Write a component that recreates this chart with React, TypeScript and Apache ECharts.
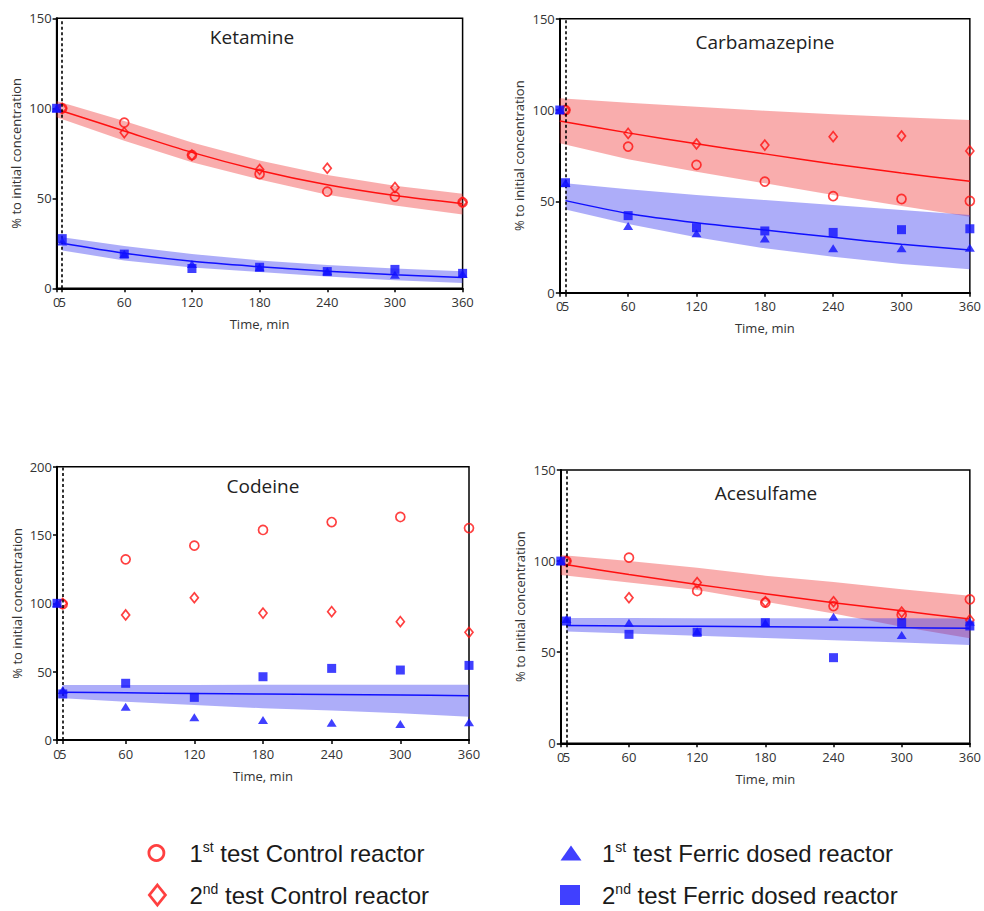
import React, { useEffect, useRef } from 'react';
import * as echarts from 'echarts';

// ---------- shared axes / names ----------
const X_TICKS = [0, 5, 60, 120, 180, 240, 300, 360];
const X_LABELS_MAIN = [0, 60, 120, 180, 240, 300, 360];
const X_LABELS_EXTRA = [5];
const CTRL_T = [5, 60, 120, 180, 240, 300, 360];
const FE_T = [0, 5, 60, 120, 180, 240, 300, 360];
const CTRL_FIT_T = [0, 60, 120, 180, 240, 300, 360];
const FE_FIT_T = [5, 60, 120, 180, 240, 300, 360];

const TITLES = ['Ketamine', 'Carbamazepine', 'Codeine', 'Acesulfame'];
const Y_MAX = [150, 150, 200, 150];

const NAME_C1 = '1st test Control reactor';
const NAME_C2 = '2nd test Control reactor';
const NAME_F1 = '1st test Ferric dosed reactor';
const NAME_F2 = '2nd test Ferric dosed reactor';

// ---------- Ketamine ----------
const ketCtrl1 = [100, 92, 74, 63.5, 53.7, 51, 47.8];
const ketCtrl2 = [100, 86.5, 74, 66, 66.7, 56, 47.8];
const ketFe1 = [100, 26, 19, 13.5, 11.7, 9.5, 7.5, 8];
const ketFe2 = [100, 27.6, 19, 11, 11.7, 9.3, 10.5, 8.3];
const ketCtrlFit = [99.5, 87.4, 75.5, 65.5, 57.5, 51.5, 47];
const ketCtrlHi = [104, 93, 81, 71, 63, 57, 52.5];
const ketCtrlLo = [95, 82, 70, 60.5, 52, 46, 41];
const ketFeFit = [25, 19.5, 15, 12, 9.5, 7.5, 6];
const ketFeHi = [28.3, 23.5, 19, 15.5, 13, 11, 9.5];
const ketFeLo = [21, 15.5, 11.5, 9, 6.5, 4.5, 3];

// ---------- Carbamazepine ----------
const carCtrl1 = [100, 80, 70, 60.8, 52.9, 51.3, 50.2];
const carCtrl2 = [100, 87.2, 81.4, 80.8, 85.4, 85.8, 77.6];
const carFe1 = [100, 60, 36.5, 32.5, 29.7, 24.3, 24.3, 24.6];
const carFe2 = [100, 60.2, 42.2, 35.6, 33.8, 33, 34.5, 35];
const carCtrlFit = [94, 87.5, 81.5, 76, 70.5, 65.5, 61];
const carCtrlHi = [106.4, 104, 101.8, 99.6, 97.7, 96, 94.5];
const carCtrlLo = [81.8, 73, 66.2, 59.9, 53.5, 47.4, 41.6];
const carFeFit = [50.4, 43.4, 38.3, 34.3, 30.3, 26.5, 23.4];
const carFeHi = [59.9, 56.6, 53.5, 50.7, 48, 45.3, 42.5];
const carFeLo = [45.6, 37.6, 30.3, 24.3, 19.7, 15.7, 12.8];

// ---------- Codeine ----------
const codCtrl1 = [99.5, 132.2, 142.2, 153.7, 159.5, 163.2, 155.1];
const codCtrl2 = [100, 91.5, 104.1, 92.9, 93.9, 86.6, 78.8];
const codFe1 = [100, 36.6, 24.4, 16.6, 14.6, 12.7, 11.7, 12.9];
const codFe2 = [100, 33.7, 41.5, 31.2, 46.3, 52.4, 51.2, 54.6];
const codFeFit = [34.9, 34.5, 34.1, 33.7, 33.3, 32.9, 32.4];
const codFeHi = [40.2, 40.3, 40.3, 40.4, 40.4, 40.5, 40.5];
const codFeLo = [30.5, 28, 25.6, 23.2, 21.5, 19.5, 17];

// ---------- Acesulfame ----------
const aceCtrl1 = [100, 101.9, 83.6, 77.2, 75.3, 70.5, 79];
const aceCtrl2 = [100, 79.9, 88.2, 77.7, 77.7, 72, 67.7];
const aceFe1 = [100, 68.2, 66.2, 61.3, 66, 69.5, 59.4, 66.7];
const aceFe2 = [100, 67.1, 59.8, 60.9, 66.2, 47, 66.2, 64.4];
const aceCtrlFit = [98.5, 92.6, 87.2, 82.1, 77.2, 72.7, 68.2];
const aceCtrlHi = [103.3, 100, 96.4, 92, 88.5, 84.5, 81];
const aceCtrlLo = [92.4, 88.2, 84.1, 77.7, 71.3, 64, 57.6];
const aceFeFit = [64.6, 64.4, 64.2, 64, 63.7, 63.4, 63.1];
const aceFeHi = [68.8, 68.8, 68.7, 68.7, 68.6, 68.6, 68.5];
const aceFeLo = [61.3, 60.2, 59, 57.8, 56.6, 55.3, 54];

const PANELS = [
  { c1: ketCtrl1, c2: ketCtrl2, f1: ketFe1, f2: ketFe2, cFit: ketCtrlFit, cHi: ketCtrlHi, cLo: ketCtrlLo, fFit: ketFeFit, fHi: ketFeHi, fLo: ketFeLo },
  { c1: carCtrl1, c2: carCtrl2, f1: carFe1, f2: carFe2, cFit: carCtrlFit, cHi: carCtrlHi, cLo: carCtrlLo, fFit: carFeFit, fHi: carFeHi, fLo: carFeLo },
  { c1: codCtrl1, c2: codCtrl2, f1: codFe1, f2: codFe2, cFit: null, cHi: null, cLo: null, fFit: codFeFit, fHi: codFeHi, fLo: codFeLo },
  { c1: aceCtrl1, c2: aceCtrl2, f1: aceFe1, f2: aceFe2, cFit: aceCtrlFit, cHi: aceCtrlHi, cLo: aceCtrlLo, fFit: aceFeFit, fHi: aceFeHi, fLo: aceFeLo },
];

// ---------- layout ----------
const GRIDS = [
  { left: 56.6, top: 18.3, width: 406, height: 270 },
  { left: 559.8, top: 18.7, width: 411.2, height: 274 },
  { left: 57, top: 466.7, width: 412, height: 273.3 },
  { left: 560.8, top: 470, width: 411.2, height: 273.3 },
];
const TITLE_POS = [
  [252, 37],
  [765, 42],
  [263, 486],
  [766, 493],
];

const RED = '#ff1010';
const BLUE = '#1010ff';
const RED_BAND = 'rgba(240,60,60,0.42)';
const BLUE_BAND = 'rgba(60,60,240,0.42)';
const FONT = "'Open Sans', sans-serif";
const LEG_FONT = "'Liberation Sans', Arial, sans-serif";

function zip(t: number[], v: number[]) {
  return t.map((x, i) => [x, v[i]]);
}

function bandSeries(p: number, t: number[], lo: number[], hi: number[], color: string, z: number) {
  return {
    type: 'custom',
    xAxisIndex: p,
    yAxisIndex: p,
    silent: true,
    z,
    data: t.map((x, i) => [x, lo[i], hi[i]]),
    encode: { x: 0, y: [1, 2] },
    renderItem: (params: any, api: any) => {
      if (params.dataIndex !== 0) return null;
      const pts: number[][] = [];
      for (let i = 0; i < t.length; i++) pts.push(api.coord([t[i], hi[i]]));
      for (let i = t.length - 1; i >= 0; i--) pts.push(api.coord([t[i], lo[i]]));
      return { type: 'polygon', shape: { points: pts }, style: { fill: color } };
    },
  };
}

function legendFor(name: string, icon: string, style: any, left: number, top: number, w: number, h: number, gap: number) {
  return {
    show: true,
    orient: 'vertical',
    left,
    top,
    padding: 0,
    itemWidth: w,
    itemHeight: h,
    selectedMode: false,
    data: [{ name, icon, itemStyle: style }],
    formatter: (n: string) => {
      const m = n.match(/^(\d)(st|nd)( .*)$/);
      if (!m) return n;
      return `{g| }{n|${m[1]}}{s|${m[2]}}{n|${m[3]}}`;
    },
    textStyle: {
      fontFamily: LEG_FONT,
      fontSize: 24,
      color: '#1a1a1a',
      rich: {
        g: { width: gap, fontSize: 10, lineHeight: 26 },
        n: { fontFamily: LEG_FONT, fontSize: 24, lineHeight: 26, color: '#1a1a1a' },
        s: { fontFamily: LEG_FONT, fontSize: 14, lineHeight: 10, verticalAlign: 'top', color: '#1a1a1a' },
      },
    },
  };
}

export default function App() {
  const ref = useRef<HTMLDivElement>(null);

  useEffect(() => {
    if (!ref.current) return;
    const chart = echarts.init(ref.current, null, { renderer: 'svg' });

    const grid = GRIDS.map((g) => ({
      ...g,
      show: true,
      borderColor: '#000',
      borderWidth: 1.5,
      containLabel: false,
    }));

    const labelStyle = { fontFamily: FONT, fontSize: 13, color: '#333', margin: 7 };

    const xMain = GRIDS.map((_, p) => ({
      type: 'value',
      gridIndex: p,
      position: 'bottom',
      min: 0,
      max: 360,
      name: 'Time, min',
      nameLocation: 'middle',
      nameGap: 29,
      nameTextStyle: { fontFamily: FONT, fontSize: 13, color: '#333' },
      axisLine: { show: true, onZero: false, lineStyle: { color: '#000', width: 2 } },
      axisTick: { show: true, inside: false, length: 4, customValues: X_TICKS, lineStyle: { color: '#000', width: 1.5 } },
      axisLabel: { ...labelStyle, customValues: X_LABELS_MAIN, showMinLabel: true, showMaxLabel: true },
      splitLine: { show: false },
    }));

    // second bottom axis on the same scale, carrying only the "5" label
    const xExtra = GRIDS.map((_, p) => ({
      type: 'value',
      gridIndex: p,
      position: 'bottom',
      offset: 0,
      min: 0,
      max: 360,
      axisLine: { show: false, onZero: false },
      axisTick: { show: false },
      axisLabel: { ...labelStyle, customValues: X_LABELS_EXTRA, showMinLabel: true },
      splitLine: { show: false },
    }));

    const yAxis = GRIDS.map((_, p) => ({
      type: 'value',
      gridIndex: p,
      min: 0,
      max: Y_MAX[p],
      interval: 50,
      name: '% to initial concentration',
      nameLocation: 'middle',
      nameGap: 34,
      nameTextStyle: { fontFamily: FONT, fontSize: 13, color: '#333' },
      axisLine: { show: true, onZero: false, lineStyle: { color: '#000', width: 2 } },
      axisTick: { show: true, inside: false, length: 4, lineStyle: { color: '#000', width: 1.5 } },
      axisLabel: { fontFamily: FONT, fontSize: 13, color: '#333', margin: 5 },
      splitLine: { show: false },
    }));

    const series: any[] = [];
    PANELS.forEach((d, p) => {
      if (d.cFit && d.cLo && d.cHi) {
        series.push(bandSeries(p, CTRL_FIT_T, d.cLo, d.cHi, RED_BAND, 1));
        series.push({
          type: 'line', name: 'ctrlFit' + p, xAxisIndex: p, yAxisIndex: p, z: 3,
          data: zip(CTRL_FIT_T, d.cFit), smooth: 0.3, showSymbol: false, symbol: 'none', silent: true,
          lineStyle: { color: RED, width: 1.5 },
        });
      }
      series.push(bandSeries(p, FE_FIT_T, d.fLo, d.fHi, BLUE_BAND, 2));
      series.push({
        type: 'line', name: 'feFit' + p, xAxisIndex: p, yAxisIndex: p, z: 3,
        data: zip(FE_FIT_T, d.fFit), smooth: 0.3, showSymbol: false, symbol: 'none', silent: true,
        lineStyle: { color: BLUE, width: 1.5 },
      });
      series.push({
        type: 'scatter', name: NAME_C1, xAxisIndex: p, yAxisIndex: p, z: 4,
        data: zip(CTRL_T, d.c1), symbol: 'circle', symbolSize: 9,
        itemStyle: { color: 'rgba(255,255,255,0)', borderColor: RED, borderWidth: 1.7 },
      });
      series.push({
        type: 'scatter', name: NAME_C2, xAxisIndex: p, yAxisIndex: p, z: 4,
        data: zip(CTRL_T, d.c2), symbol: 'diamond', symbolSize: [8, 10],
        itemStyle: { color: 'rgba(255,255,255,0)', borderColor: RED, borderWidth: 1.7 },
      });
      series.push({
        type: 'scatter', name: NAME_F1, xAxisIndex: p, yAxisIndex: p, z: 5,
        data: zip(FE_T, d.f1), symbol: 'triangle', symbolSize: [10, 8],
        itemStyle: { color: BLUE },
      });
      series.push({
        type: 'scatter', name: NAME_F2, xAxisIndex: p, yAxisIndex: p, z: 5,
        data: zip(FE_T, d.f2), symbol: 'rect', symbolSize: 9,
        itemStyle: { color: BLUE },
        markLine: {
          silent: true,
          symbol: ['none', 'none'],
          label: { show: false },
          lineStyle: { color: '#000', type: [3, 2.5], width: 1.6 },
          data: [{ xAxis: 5 }],
        },
      });
    });

    const graphic = TITLES.map((t, p) => ({
      type: 'text',
      x: TITLE_POS[p][0],
      y: TITLE_POS[p][1],
      z: 10,
      style: { text: t, fontFamily: FONT, fontSize: 19, fill: '#222', align: 'center', verticalAlign: 'middle' },
    }));

    const legend = [
      legendFor(NAME_C1, 'circle', { color: '#fff', borderColor: RED, borderWidth: 2.8 }, 147.5, 840, 15, 15, 20.5),
      legendFor(NAME_C2, 'diamond', { color: '#fff', borderColor: RED, borderWidth: 2.8 }, 148, 882, 16, 20, 19),
      legendFor(NAME_F1, 'triangle', { color: BLUE, borderWidth: 0 }, 560.5, 840, 21, 15, 15.5),
      legendFor(NAME_F2, 'rect', { color: BLUE, borderWidth: 0 }, 560, 882, 20, 20, 17),
    ];

    chart.setOption({
      animation: false,
      backgroundColor: '#fff',
      textStyle: { fontFamily: FONT },
      grid,
      xAxis: [...xMain, ...xExtra],
      yAxis,
      series,
      graphic,
      legend,
    });

    return () => chart.dispose();
  }, []);

  return (
    <div
      ref={ref}
      style={{ position: 'absolute', left: 0, top: 0, width: 984, height: 911, background: '#fff' }}
    />
  );
}
